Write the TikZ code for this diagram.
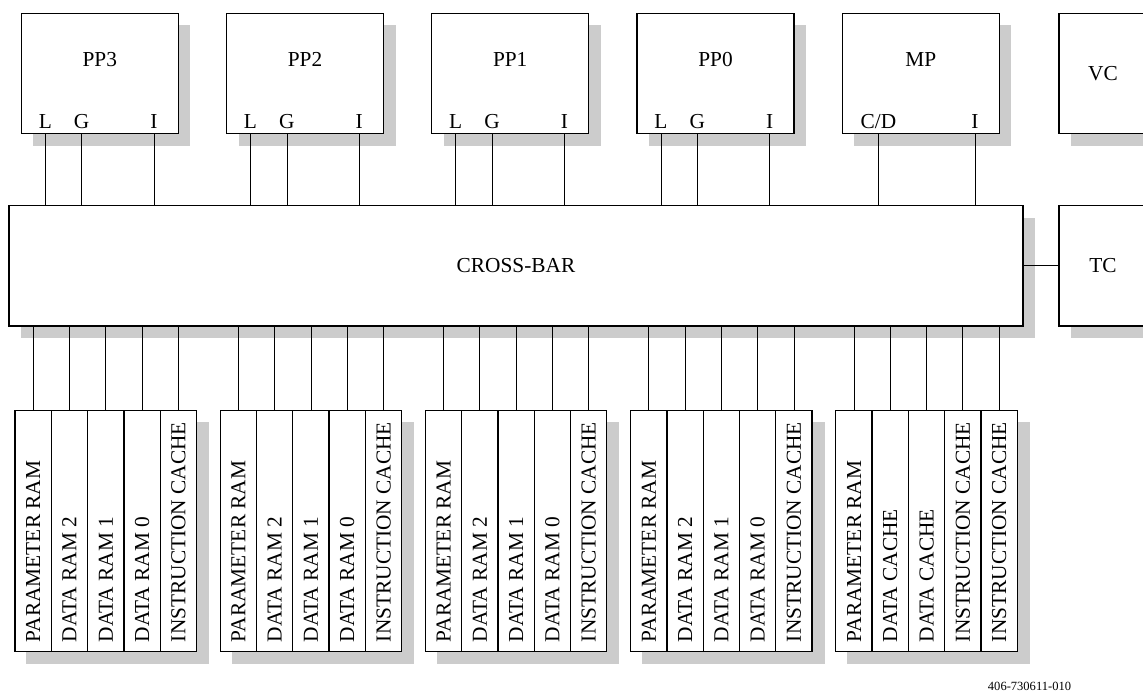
\documentclass[tikz,border=0pt]{standalone}
\usepackage{fontspec}
\setmainfont{Liberation Serif}
\usetikzlibrary{calc, positioning, backgrounds}
\definecolor{ShadowGray}{RGB}{204, 204, 204}

\begin{document}
\begin{tikzpicture}[
        x=0.75pt, y=-0.75pt,
        font=\fontsize{16}{19}\selectfont,
        shadowed/.style={draw=black, fill=white, line width=0.9pt, rectangle, inner sep=0pt,
          preaction={draw=none, fill=ShadowGray, transform canvas={xshift=9pt, yshift=-9pt}}},
        proc/.style={shadowed, minimum width=117.75pt, minimum height=90.3pt},
        unit/.style={shadowed, minimum width=66pt, minimum height=90.3pt},
        memcol/.style={draw=black, fill=white, line width=0.9pt, rectangle, inner sep=0pt, minimum width=27.2pt, minimum height=181pt},
        memtext/.style={rotate=90, anchor=west, inner sep=0pt},
        port/.style={anchor=base, inner sep=0pt},
        wire/.style={line width=0.6pt, black}
      ]
        \useasboundingbox (0,0) rectangle (1143,693);

        % Nodes
        \foreach \name/\txt/\cx in {pp3/PP3/99.8, pp2/PP2/305, pp1/PP1/510.2, pp0/PP0/715.5, mp/MP/920.7}
          \node [proc, label={[anchor=center, yshift=-35pt]north:\txt}] (\name) at (\cx,73.5) {};
        \node [unit] (vc) at (1103,73.5) {VC};
        \node [shadowed, minimum width=760.5pt, minimum height=90.3pt] (xbar) at (516,265.8) {CROSS-BAR};
        \node [unit] (tc) at (1103,265.8) {TC};

        % Ports and connections to the cross-bar
        \foreach \p in {pp3, pp2, pp1, pp0}
          \foreach \q/\dx in {L/-54.5, G/-18.1, I/54.2} {
            \node [port] (\p-\q) at ($(\p.south)+(\dx,-5.7)$) {\q};
            \draw [wire] (\p-\q |- \p.south) -- (\p-\q |- xbar.north);
          }
        \node [port] (mp-C) at ($(mp.south)+(-42.2,-5.7)$) {C/D};
        \node [port] (mp-I) at ($(mp.south)+(54.2,-5.7)$) {I};
        \draw [wire] (mp-C |- mp.south) -- (mp-C |- xbar.north);
        \draw [wire] (mp-I |- mp.south) -- (mp-I |- xbar.north);
        \draw [wire] (xbar.east) -- (tc.west);

        % Memory banks
        \foreach \m/\mx in {m3/15, m2/220.2, m1/425.4, m0/630.6} {
          \foreach \txt [count=\i] in {PARAMETER RAM, DATA RAM 2, DATA RAM 1, DATA RAM 0, INSTRUCTION CACHE} {
            \node [memcol] (\m-\i) at (\mx+36.3*\i-18.15,531) {};
            \node [memtext] (\m-\i-t) at ($(\m-\i.south)+(0,-10)$) {\txt};
            \draw [wire] (\m-\i.north) -- (\m-\i.north |- xbar.south);
          }
          \begin{pgfonlayer}{background}
            \fill [ShadowGray] ($(\m-1.north west)+(12,12)$) rectangle ($(\m-5.south east)+(12,12)$);
          \end{pgfonlayer}
        }
        \foreach \txt [count=\i] in {PARAMETER RAM, DATA CACHE, DATA CACHE, INSTRUCTION CACHE, INSTRUCTION CACHE} {
          \node [memcol] (mm-\i) at (835.8+36.3*\i-18.15,531) {};
          \node [memtext] (mm-\i-t) at ($(mm-\i.south)+(0,-10)$) {\txt};
          \draw [wire] (mm-\i.north) -- (mm-\i.north |- xbar.south);
        }
        \begin{pgfonlayer}{background}
          \fill [ShadowGray] ($(mm-1.north west)+(12,12)$) rectangle ($(mm-5.south east)+(12,12)$);
        \end{pgfonlayer}

        \node [font=\fontsize{9.4}{11}\selectfont] (docid) at (1029.5,686) {406-730611-010};
      \end{tikzpicture}
\end{document}
